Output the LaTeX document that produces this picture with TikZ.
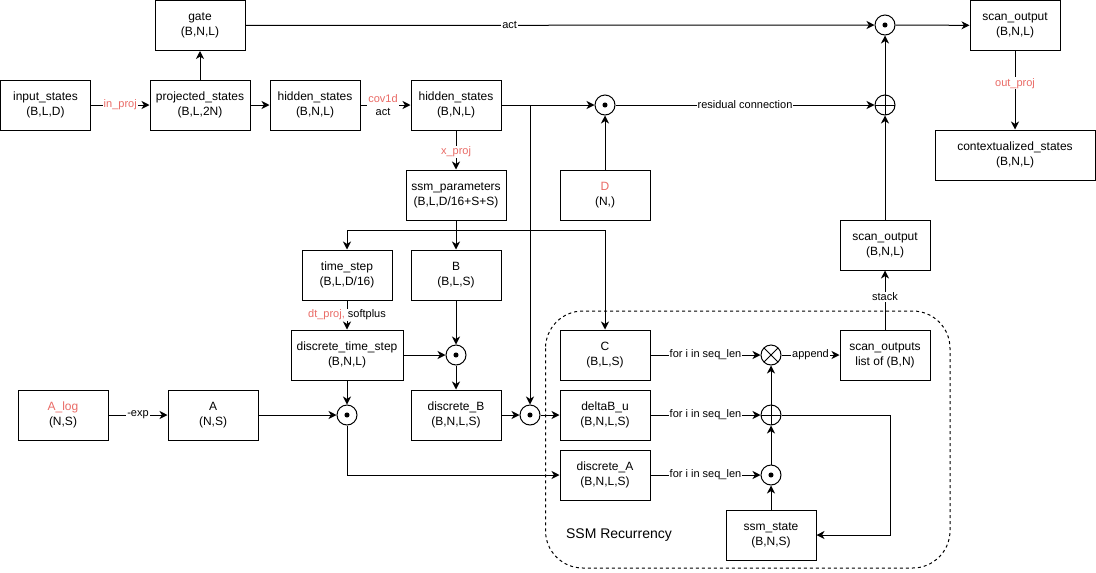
\documentclass[tikz,border=0pt]{standalone}
\usepackage{fontspec}
\setmainfont{Liberation Sans}
\usetikzlibrary{arrows.meta,positioning}
\definecolor{lblred}{HTML}{EA6B66}
\begin{document}
\begin{tikzpicture}[x=0.75pt,y=-0.75pt, line width=0.75pt,
  box/.style={draw, fill=white, align=center, font=\fontsize{9}{11.25}\selectfont, inner sep=0pt, minimum height=37.5pt, minimum width=67.5pt},
  wd/.style={minimum width={#1*0.75pt}},
  arr/.style={-{Stealth[length=6pt,width=6pt,inset=1.8pt]}},
  lbl/.style={fill=white, inner sep=0.8pt, font=\fontsize{8.25}{10}\selectfont},
  opc/.style={circle, draw, minimum size=15pt, inner sep=0pt},
  odot/.style={opc, path picture={\fill (path picture bounding box.center) circle (1.9pt);}},
  oplus/.style={opc, path picture={\draw (path picture bounding box.north) -- (path picture bounding box.south) (path picture bounding box.west) -- (path picture bounding box.east);}},
  otimes/.style={opc, path picture={\draw (path picture bounding box.north west) -- (path picture bounding box.south east) (path picture bounding box.north east) -- (path picture bounding box.south west);}},
  recbox/.style={draw, dash pattern=on 2.25pt off 2.25pt, rounded corners=28pt}
]
\useasboundingbox (0,0) rectangle (1096,572);

% recurrency region
\draw[recbox] (545.5,311) rectangle (950,568);
\node[font=\fontsize{10.5}{12}\selectfont] (rectitle) at (619,535) {SSM Recurrency};

% nodes
\node[box] (inp) at (45.5,105) {input\_states\\(B,L,D)};
\node[box, wd=100] (proj) at (200,105) {projected\_states\\(B,L,2N)};
\node[box] (gate) at (200,25.5) {gate\\(B,N,L)};
\node[box] (hid1) at (315,105) {hidden\_states\\(B,N,L)};
\node[box] (hid2) at (456,105) {hidden\_states\\(B,N,L)};
\node[odot] (res) at (605,105) {};
\node[oplus] (plusT) at (885,105) {};
\node[odot] (gatem) at (885,25) {};
\node[box] (scanT) at (1015,25.5) {scan\_output\\(B,N,L)};
\node[box, wd=160] (ctx) at (1015,155) {contextualized\_states\\(B,N,L)};
\node[box] (D) at (605,195) {\textcolor{lblred}{D}\\(N,)};
\node[box, wd=100] (ssmp) at (456,195) {ssm\_parameters\\(B,L,D/16+S+S)};
\node[box] (ts) at (347,275) {time\_step\\(B,L,D/16)};
\node[box] (B) at (456,275) {B\\(B,L,S)};
\node[box, wd=112] (dts) at (347,355) {discrete\_time\_step\\(B,N,L)};
\node[odot] (oB) at (456,355) {};
\node[box] (dB) at (456,415) {discrete\_B\\(B,N,L,S)};
\node[odot] (oA) at (347,415) {};
\node[box] (Alog) at (63,415) {\textcolor{lblred}{A\_log}\\(N,S)};
\node[box] (A) at (213,415) {A\\(N,S)};
\node[odot] (oDB) at (530,415) {};
\node[box] (C) at (605,355) {C\\(B,L,S)};
\node[box] (dBu) at (605,415) {deltaB\_u\\(B,N,L,S)};
\node[box] (dA) at (605,475) {discrete\_A\\(B,N,L,S)};
\node[otimes] (ox) at (771,355) {};
\node[oplus] (op) at (771,415) {};
\node[odot] (os) at (771,475) {};
\node[box] (state) at (771,535) {ssm\_state\\(B,N,S)};
\node[box] (souts) at (885,355) {scan\_outputs\\list of (B,N)};
\node[box] (scanM) at (885,245) {scan\_output\\(B,N,L)};

\coordinate (br) at (456,230);
\coordinate (loop) at (890,415);
\coordinate (vtop) at (530,105);

% connectors
\draw[arr] (inp) -- node[lbl, text=lblred]{in\_proj} (proj);
\draw[arr] (proj) -- (gate);
\draw[arr] (proj) -- (hid1);
\draw[arr] (hid1) -- node[lbl, align=center, pos=0.45]{\textcolor{lblred}{cov1d}\\act} (hid2);
\draw[arr] (gate) -- node[lbl, pos=0.42]{act} (gatem);
\draw[arr] (gatem) -- (scanT);
\draw[arr] (scanT) -- node[lbl, text=lblred, pos=0.41]{out\_proj} (ctx);
\draw[arr] (hid2) -- (res);
\draw[arr] (D) -- (res);
\draw[arr] (res) -- node[lbl]{residual connection} (plusT);
\draw[arr] (plusT) -- (gatem);
\draw[arr] (scanM) -- (plusT);
\draw[arr] (souts) -- node[lbl, pos=0.55]{stack} (scanM);
\draw[arr] (hid2) -- node[lbl, text=lblred, pos=0.55]{x\_proj} (ssmp);
\draw[arr] (ssmp) -- (B);
\draw[arr] (br) -| (ts.north);
\draw[arr] (br) -| (C.north);
\draw[arr] (ts) -- node[lbl]{\textcolor{lblred}{dt\_proj,} softplus} (dts);
\draw[arr] (dts) -- (oB);
\draw[arr] (B) -- (oB);
\draw[arr] (oB) -- (dB);
\draw[arr] (dts) -- (oA);
\draw[arr] (A) -- (oA);
\draw[arr] (Alog) -- node[lbl]{-exp} (A);
\draw[arr] (oA) |- (dA);
\draw[arr] (dB) -- (oDB);
\draw[arr] (vtop) -- (oDB);
\draw[arr] (oDB) -- (dBu);
\draw[arr] (C) -- node[lbl]{for i in seq\_len} (ox);
\draw[arr] (dBu) -- node[lbl]{for i in seq\_len} (op);
\draw[arr] (dA) -- node[lbl]{for i in seq\_len} (os);
\draw[arr] (state) -- (os);
\draw[arr] (os) -- (op);
\draw[arr] (op) -- (ox);
\draw[arr] (ox) -- node[lbl]{append} (souts);
\draw[arr] (op) -- (loop) |- (state);
\end{tikzpicture}
\end{document}
